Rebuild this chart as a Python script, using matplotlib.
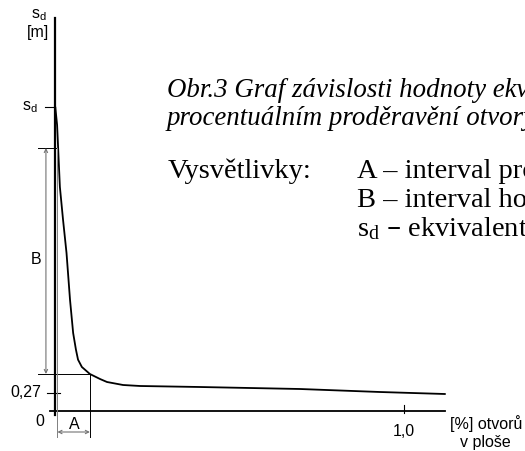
import matplotlib.pyplot as plt

# === DATA (x in % of openings, y in m) ===
pct = [0.001, 0.006, 0.014, 0.023, 0.033, 0.043, 0.052, 0.060, 0.066, 0.077,
       0.100, 0.129, 0.149, 0.195, 0.244, 0.415, 0.702, 0.931, 1.117]
sd_vals = [4.55, 4.29, 3.36, 2.87, 2.37, 1.67, 1.17, 0.92, 0.77, 0.66,
           0.555, 0.48, 0.435, 0.39, 0.375, 0.36, 0.33, 0.285, 0.255]
sd_max = 4.56      # s_d mark on the y axis
sd_low = 0.27      # lower mark on the y axis
x_tick = 1.0       # 1,0 % mark
a_end = 0.100      # end of interval A
b_top = 3.945      # top of interval B
b_bot = 0.555      # bottom of interval B

y_labels = ['0', '0,27']
x_label_tick = '1,0'
caption = ['Obr.3 Graf závislosti hodnoty ekvivalentní difuzní tloušťky',
           'procentuálním proděravění otvory']
legend_rows = ['A – interval proděravění',
               'B – interval hodnot',
               r'$\mathregular{s_d}$ – ekvivalentní difuzní tloušťka']

# === FIGURE ===
W, H = 525, 451
fig = plt.figure(figsize=(W / 100, H / 100), dpi=100)
ax = fig.add_axes([0, 0, 1, 1])
px_x = 349.0    # pixels per 1 %
px_y = 66.67    # pixels per 1 m
ax.set_xlim(-55 / px_x, (W - 55) / px_x)
ax.set_ylim(-(H - 411) / px_y, 411 / px_y)
ax.axis('off')

sans = 'Liberation Sans'
serif = 'Liberation Serif'

# axes
ax.plot([0, 0], [-0.06, 5.9], color='k', lw=1.6)
ax.plot([-0.014, 1.117], [0, 0], color='k', lw=1.3)

# curve
ax.plot(pct, sd_vals, color='k', lw=1.3)

# ticks
ax.plot([-0.03, 0], [sd_max, sd_max], color='k', lw=0.8)
ax.plot([-0.023, 0.014], [sd_low, sd_low], color='k', lw=0.8)
ax.plot([x_tick, x_tick], [-0.03, 0.09], color='k', lw=0.8)

# interval B
ax.plot([-0.049, 0.009], [b_top, b_top], color='k', lw=0.7)
ax.plot([-0.049, a_end], [b_bot, b_bot], color='k', lw=0.7)
ax.annotate('', xy=(-0.026, b_bot), xytext=(-0.026, b_top),
            arrowprops=dict(arrowstyle='<->', color='0.45', lw=0.8,
                            shrinkA=0, shrinkB=0, mutation_scale=6))

# interval A
ax.plot([0.007, 0.007], [b_top, -0.39], color='0.5', lw=0.7)
ax.plot([a_end, a_end], [b_bot, -0.39], color='k', lw=0.7)
ax.annotate('', xy=(0.007, -0.315), xytext=(a_end, -0.315),
            arrowprops=dict(arrowstyle='<->', color='0.45', lw=0.8,
                            shrinkA=0, shrinkB=0, mutation_scale=6))

# axis labels
fs = 11.5
ax.text(-0.043, -0.15, y_labels[0], ha='center', va='center', fontsize=fs, family=sans)
ax.text(-0.040, sd_low, y_labels[1], ha='right', va='center', fontsize=fs, family=sans)
ax.text(-0.049, sd_max, r'$\mathregular{s_d}$', ha='right', va='center', fontsize=fs, family=sans)
ax.text(-0.046, 5.94, r'$\mathregular{s_d}$', ha='center', va='center', fontsize=fs, family=sans)
ax.text(-0.049, 5.67, '[m]', ha='center', va='center', fontsize=fs, family=sans)
ax.text(-0.054, 2.265, 'B', ha='center', va='center', fontsize=fs, family=sans)
ax.text(0.054, -0.195, 'A', ha='center', va='center', fontsize=fs, family=sans)
ax.text(x_tick, -0.3, x_label_tick, ha='center', va='center', fontsize=fs, family=sans)
ax.text(1.132, -0.195, '[%] otvorů', ha='left', va='center', fontsize=fs, family=sans)
ax.text(1.232, -0.465, 'v ploše', ha='center', va='center', fontsize=fs, family=sans)

# caption and explanations
def fx(px):
    return px / W

def fy(py):
    return 1 - py / H

fig.text(fx(167), fy(97), caption[0], fontsize=19.4, family=serif, style='italic', va='baseline')
fig.text(fx(167), fy(125), caption[1], fontsize=19.4, family=serif, style='italic', va='baseline')
fig.text(fx(168), fy(178), 'Vysvětlivky:', fontsize=20.5, family=serif, va='baseline')
for i, row in enumerate(legend_rows):
    fig.text(fx(357), fy(178 + 29 * i), row, fontsize=20.5, family=serif, va='baseline')

fig.savefig('out.png', dpi=100)
